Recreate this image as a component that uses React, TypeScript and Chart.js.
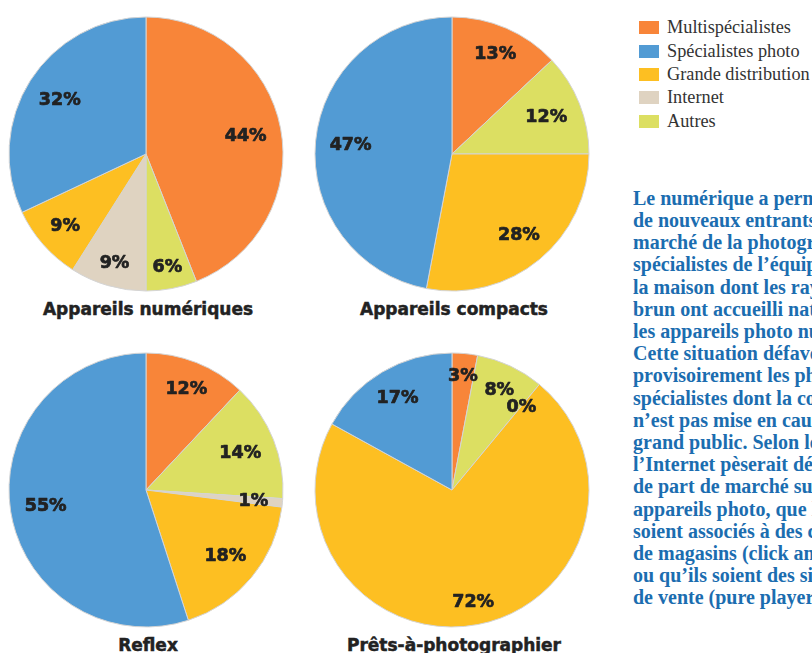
import React, { useEffect, useRef } from "react";
import { Chart, registerables } from "chart.js";

Chart.register(...registerables);

// Slice order clockwise from 12 o'clock
const sliceCategories = ["Multispécialistes", "Autres", "Internet", "Grande distribution", "Spécialistes photo"];
const sliceColors = ["#f88539", "#dcdf62", "#dfd3c1", "#fdbf22", "#529bd4"];

const legendCategories = ["Multispécialistes", "Spécialistes photo", "Grande distribution", "Internet", "Autres"];
const legendColors = ["#f88539", "#529bd4", "#fdbf22", "#dfd3c1", "#dcdf62"];

const chartTitles = ["Appareils numériques", "Appareils compacts", "Reflex", "Prêts-à-photographier"];

const numeriquesValues: (number | null)[] = [44, 6, 9, 9, 32];
const compactsValues: (number | null)[] = [13, 12, null, 28, 47];
const reflexValues: (number | null)[] = [12, 14, 1, 18, 55];
const pretsValues: (number | null)[] = [3, 8, 0, 72, 17];

const seriesList = [numeriquesValues, compactsValues, reflexValues, pretsValues];

const bodyLines = [
  "Le numérique a permis à",
  "de nouveaux entrants sur le",
  "marché de la photographie :",
  "spécialistes de l’équipement de",
  "la maison dont les rayons",
  "brun ont accueilli naturellement",
  "les appareils photo numériques.",
  "Cette situation défavorise",
  "provisoirement les photo-",
  "spécialistes dont la compétence",
  "n’est pas mise en cause par le",
  "grand public. Selon les experts,",
  "l’Internet pèserait déjà 10 %",
  "de part de marché sur les",
  "appareils photo, que les sites",
  "soient associés à des chaînes",
  "de magasins (click and mortar)",
  "ou qu’ils soient des sites",
  "de vente (pure players).",
];

const labelPlugin = {
  id: "sliceLabels",
  afterDatasetsDraw(chart: any) {
    const ctx = chart.ctx;
    const meta = chart.getDatasetMeta(0);
    const data = chart.data.datasets[0].data;
    ctx.save();
    ctx.font = "bold 17.5px 'DejaVu Sans', sans-serif";
    ctx.fillStyle = "#222";
    ctx.strokeStyle = "#222";
    ctx.lineWidth = 0.7;
    ctx.lineJoin = "round";
    ctx.textAlign = "center";
    ctx.textBaseline = "middle";
    const h = 13;
    meta.data.forEach((arc: any, i: number) => {
      const v = data[i];
      if (v === null || v === undefined) return;
      const p = arc.getProps(["x", "y", "startAngle", "endAngle", "outerRadius"], true);
      const mid = (p.startAngle + p.endAngle) / 2;
      const txt = v + "%";
      const w = ctx.measureText(txt).width;
      const dx = Math.cos(mid);
      const dy = Math.sin(mid);
      const extent = Math.abs(dx) * w / 2 + Math.abs(dy) * h / 2;
      const r = p.outerRadius * 0.9 - extent;
      const x = p.x + dx * r;
      const y = p.y + dy * r + 1;
      ctx.fillText(txt, x, y);
      ctx.strokeText(txt, x, y);
    });
    ctx.restore();
  },
};

function PieChart({ values }: { values: (number | null)[] }) {
  const ref = useRef<HTMLCanvasElement>(null);
  useEffect(() => {
    const chart = new Chart(ref.current!, {
      type: "pie",
      data: {
        labels: sliceCategories,
        datasets: [
          {
            data: values as any,
            backgroundColor: sliceColors,
            borderColor: "#d4d4d4",
            borderWidth: 1,
            radius: 137,
          } as any,
        ],
      },
      options: {
        animation: false,
        responsive: false,
        events: [],
        plugins: { legend: { display: false }, tooltip: { enabled: false } },
      },
      plugins: [labelPlugin],
    });
    return () => chart.destroy();
  }, [values]);
  return <canvas ref={ref} width={280} height={280} style={{ width: 280, height: 280, display: "block" }} />;
}

const centers = [
  [146, 154],
  [452, 154],
  [146, 490],
  [452, 490],
];

export default function App() {
  return (
    <div style={{ position: "fixed", left: 0, top: 0, width: 812, height: 653, background: "#fff", overflow: "hidden" }}>
      {seriesList.map((vals, i) => (
        <div key={i}>
          <div style={{ position: "absolute", left: centers[i][0] - 140, top: centers[i][1] - 140 }}>
            <PieChart values={vals} />
          </div>
          <div
            style={{
              position: "absolute",
              left: centers[i][0] - 150 + 2,
              width: 300,
              top: centers[i][1] + 144,
              textAlign: "center",
              font: "bold 17px 'DejaVu Sans', sans-serif",
              color: "#222",
              lineHeight: "22px",
              whiteSpace: "nowrap",
              WebkitTextStroke: "0.5px #222",
            } as any}
          >
            {chartTitles[i]}
          </div>
        </div>
      ))}
      <div style={{ position: "absolute", left: 639, top: 16 }}>
        {legendCategories.map((c, i) => (
          <div key={c} style={{ display: "flex", alignItems: "center", height: 23.35, whiteSpace: "nowrap" }}>
            <div style={{ width: 20, height: 13, background: legendColors[i], marginRight: 8, flex: "none" }} />
            <span style={{ font: "18.3px 'Liberation Serif', 'Times New Roman', serif", color: "#333" }}>{c}</span>
          </div>
        ))}
      </div>
      <div
        style={{
          position: "absolute",
          left: 633,
          top: 186.7,
          width: 179,
          overflow: "hidden",
          font: "bold 20px 'Liberation Serif', 'Times New Roman', serif",
          color: "#1b6db0",
          lineHeight: "22.2px",
          whiteSpace: "nowrap",
        }}
      >
        {bodyLines.map((l, i) => (
          <div key={i}>{l}</div>
        ))}
      </div>
    </div>
  );
}
